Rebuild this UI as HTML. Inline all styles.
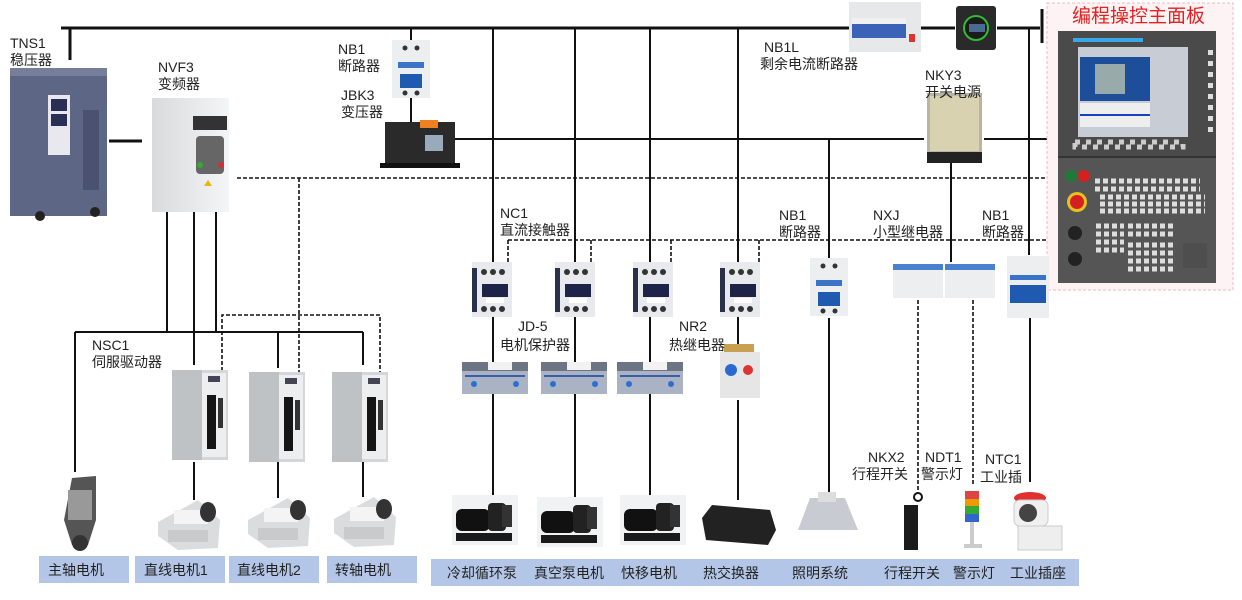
<!DOCTYPE html>
<html><head><meta charset="utf-8"><style>
html,body{margin:0;padding:0;background:#fff}
svg{display:block}
text{font-family:"Liberation Sans","Noto Sans CJK SC",sans-serif;fill:#222}
</style></head><body>
<svg width="1242" height="600" viewBox="0 0 1242 600" xmlns="http://www.w3.org/2000/svg">
<defs>
<linearGradient id="gbox" x1="0" x2="1"><stop offset="0" stop-color="#d8dadc"/><stop offset="1" stop-color="#f4f5f6"/></linearGradient>
<g id="contactor"><rect x="0" y="0" width="40" height="55" fill="#e8eaee"/><rect x="0" y="6" width="5" height="44" fill="#2a2f4a"/><circle cx="12" cy="10" r="3" fill="#333"/><circle cx="21" cy="10" r="3" fill="#333"/><circle cx="30" cy="10" r="3" fill="#333"/><rect x="10" y="22" width="26" height="13" fill="#1e2448"/><rect x="14" y="36" width="18" height="5" fill="#fff"/><circle cx="12" cy="47" r="3" fill="#333"/><circle cx="21" cy="47" r="3" fill="#333"/><circle cx="30" cy="47" r="3" fill="#333"/></g>
<g id="protector"><rect x="0" y="4" width="66" height="28" fill="#a9b3c4"/><rect x="0" y="0" width="66" height="9" fill="#6d7584"/><rect x="26" y="0" width="24" height="8" fill="#f2f2f2"/><rect x="3" y="13" width="60" height="2" fill="#3a5ea8"/><circle cx="12" cy="22" r="3" fill="#2b6fd0"/><circle cx="54" cy="22" r="3" fill="#2b6fd0"/></g>
<g id="drive"><rect x="0" y="0" width="56" height="90" fill="#d4d6d8"/><rect x="0" y="0" width="30" height="90" fill="#bfc2c5"/><rect x="30" y="3" width="24" height="84" fill="#eceeef"/><rect x="35" y="25" width="9" height="54" fill="#151515"/><rect x="46" y="28" width="5" height="30" fill="#333"/><rect x="36" y="6" width="12" height="6" fill="#445"/></g>
<g id="slide"><polygon points="0,22 40,0 62,20 60,48 20,50 0,36" fill="#dadcde"/><rect x="16" y="10" width="34" height="14" fill="#f4f4f4"/><ellipse cx="50" cy="12" rx="8" ry="10" fill="#333"/><rect x="10" y="30" width="40" height="12" fill="#c8cacc"/></g>
<g id="pump"><rect x="0" y="0" width="66" height="50" fill="#f1f2f3"/><rect x="4" y="14" width="34" height="22" rx="6" fill="#111"/><rect x="36" y="8" width="18" height="28" rx="4" fill="#222"/><rect x="50" y="10" width="10" height="22" fill="#333"/><rect x="4" y="38" width="56" height="8" fill="#1a1a1a"/></g>
<g id="breaker1"><rect x="0" y="0" width="38" height="58" fill="#eceef0"/><circle cx="13" cy="8" r="2.5" fill="#333"/><circle cx="25" cy="8" r="2.5" fill="#333"/><rect x="6" y="22" width="26" height="6" fill="#3a73c8"/><rect x="8" y="34" width="22" height="14" fill="#1e5ab0"/><circle cx="13" cy="53" r="2.5" fill="#333"/><circle cx="25" cy="53" r="2.5" fill="#333"/></g>
</defs>

<g fill="#b4c6e7">
<rect x="39" y="556" width="90" height="27"/><rect x="135" y="556" width="90" height="27"/><rect x="229" y="556" width="90" height="27"/><rect x="327" y="556" width="90" height="27"/>
<rect x="431" y="559" width="648" height="27"/>
</g>
<g font-size="14">
<text x="48" y="575">主轴电机</text><text x="144" y="575">直线电机1</text><text x="237" y="575">直线电机2</text><text x="335" y="575">转轴电机</text>
<text x="447" y="578">冷却循环泵</text><text x="534" y="578">真空泵电机</text><text x="621" y="578">快移电机</text><text x="703" y="578">热交换器</text><text x="792" y="578">照明系统</text><text x="884" y="578">行程开关</text><text x="953" y="578">警示灯</text><text x="1010" y="578">工业插座</text>
</g>

<g stroke="#111" stroke-width="2" fill="none">
<line x1="61" y1="28" x2="849" y2="28" stroke-width="3"/>
<line x1="70" y1="28" x2="70" y2="60" stroke-width="3"/>
<line x1="921" y1="28" x2="955" y2="28" stroke-width="3"/>
<line x1="997" y1="28" x2="1040" y2="28" stroke-width="3"/>
<line x1="1042" y1="9" x2="1042" y2="43" stroke-width="3"/>
<line x1="109" y1="141" x2="142" y2="141" stroke-width="3"/>
<line x1="411" y1="28" x2="411" y2="45"/><line x1="411" y1="94" x2="411" y2="165"/>
<line x1="455" y1="139" x2="924" y2="139"/><line x1="984" y1="139" x2="1057" y2="139"/>
<line x1="493" y1="28" x2="493" y2="262"/><line x1="575" y1="28" x2="575" y2="262"/>
<line x1="650" y1="28" x2="650" y2="262"/><line x1="738" y1="28" x2="738" y2="262"/>
<line x1="829" y1="139" x2="829" y2="258"/>
<line x1="951" y1="163" x2="951" y2="262"/>
<line x1="1029" y1="28" x2="1029" y2="255"/>
<line x1="75" y1="332" x2="363" y2="332"/>
<line x1="75" y1="332" x2="75" y2="472"/>
<line x1="167" y1="212" x2="167" y2="332"/><line x1="194" y1="212" x2="194" y2="365"/><line x1="216" y1="212" x2="216" y2="332"/>
<line x1="278" y1="332" x2="278" y2="368"/><line x1="363" y1="332" x2="363" y2="365"/>
<line x1="194" y1="462" x2="194" y2="500"/><line x1="278" y1="462" x2="278" y2="498"/><line x1="363" y1="462" x2="363" y2="497"/>
<line x1="493" y1="317" x2="493" y2="362"/><line x1="493" y1="393" x2="493" y2="495"/>
<line x1="575" y1="317" x2="575" y2="362"/><line x1="575" y1="393" x2="575" y2="497"/>
<line x1="650" y1="317" x2="650" y2="362"/><line x1="650" y1="393" x2="650" y2="497"/>
<line x1="738" y1="317" x2="738" y2="348"/><line x1="738" y1="400" x2="738" y2="500"/>
<line x1="829" y1="318" x2="829" y2="495"/>
<line x1="1030" y1="318" x2="1030" y2="482"/>
</g>
<g stroke="#111" stroke-width="1.6" stroke-dasharray="4,2" fill="none">
<line x1="237" y1="178" x2="1058" y2="178"/>
<line x1="299" y1="178" x2="299" y2="383"/>
<polyline points="222,383 222,315 380,315 380,383"/>
<line x1="508" y1="240" x2="1065" y2="240"/>
<line x1="508" y1="240" x2="508" y2="265"/><line x1="591" y1="240" x2="591" y2="265"/>
<line x1="671" y1="240" x2="671" y2="265"/><line x1="759" y1="240" x2="759" y2="265"/>
<line x1="918" y1="300" x2="918" y2="492"/><line x1="973" y1="300" x2="973" y2="486"/>
</g>

<rect x="10" y="68" width="97" height="148" fill="#5e6685"/><rect x="10" y="68" width="97" height="8" fill="#767e9c"/>
<rect x="48" y="95" width="22" height="60" fill="#e8e8ee"/><rect x="51" y="99" width="16" height="12" fill="#2a2f55"/><rect x="51" y="114" width="16" height="12" fill="#2a2f55"/>
<rect x="83" y="110" width="16" height="80" fill="#4a5270"/>
<circle cx="40" cy="216" r="5" fill="#222"/><circle cx="95" cy="212" r="5" fill="#222"/>

<rect x="152" y="98" width="77" height="114" fill="url(#gbox)"/><rect x="193" y="116" width="34" height="14" fill="#333"/><rect x="196" y="136" width="28" height="38" rx="4" fill="#666"/><circle cx="200" cy="165" r="3" fill="#3a3"/><circle cx="221" cy="165" r="3" fill="#c33"/><polygon points="204,186 208,180 212,186" fill="#e6b800"/>

<use href="#breaker1" x="392" y="40"/>
<rect x="385" y="122" width="70" height="44" fill="#2a2a2a"/><rect x="420" y="120" width="18" height="8" fill="#f08020"/><rect x="425" y="135" width="18" height="16" fill="#9ab"/><rect x="380" y="163" width="80" height="5" fill="#111"/>

<rect x="849" y="2" width="72" height="50" fill="#e6e8ea"/><rect x="852" y="18" width="54" height="20" fill="#3a63b8"/><rect x="852" y="18" width="54" height="6" fill="#f0f0f0"/><rect x="909" y="34" width="6" height="8" fill="#d33"/>
<rect x="956" y="6" width="40" height="44" rx="3" fill="#2a2a2a"/><circle cx="976" cy="28" r="12" fill="#1b1b1b" stroke="#3b3" stroke-width="2"/><rect x="969" y="24" width="16" height="8" fill="#4a6a90"/>

<rect x="927" y="93" width="55" height="70" fill="#b8b5a4"/><rect x="930" y="96" width="49" height="55" fill="#d8d2b0"/><rect x="927" y="152" width="55" height="11" fill="#222"/>

<rect x="1047" y="3" width="186" height="287" fill="#fdf3f4" stroke="#f0b8c0" stroke-dasharray="3,2"/>
<text x="1072" y="22" font-size="19" style="fill:#e62020">编程操控主面板</text>
<rect x="1058" y="31" width="158" height="252" fill="#4a4a4a"/>
<rect x="1058" y="157" width="158" height="126" fill="#555"/>
<line x1="1058" y1="157" x2="1216" y2="157" stroke="#333" stroke-width="2"/>
<rect x="1073" y="38" width="70" height="4" fill="#38a8e8"/>
<rect x="1078" y="47" width="110" height="90" fill="#c8ccd4"/>
<rect x="1080" y="57" width="70" height="44" fill="#1c4e9a"/><rect x="1095" y="64" width="30" height="30" fill="#9aa"/>
<rect x="1080" y="103" width="70" height="24" fill="#eee"/><rect x="1080" y="114" width="70" height="2" fill="#1840c0"/>
<g fill="#ddd"><rect x="1208" y="50" width="5" height="5"/><rect x="1208" y="61" width="5" height="5"/><rect x="1208" y="72" width="5" height="5"/><rect x="1208" y="83" width="5" height="5"/><rect x="1208" y="94" width="5" height="5"/><rect x="1208" y="105" width="5" height="5"/><rect x="1208" y="116" width="5" height="5"/><rect x="1208" y="127" width="5" height="5"/></g>
<rect x="1075" y="142" width="108" height="5" fill="none" stroke="#ccc" stroke-dasharray="5,6" stroke-width="5"/>
<circle cx="1071" cy="176" r="6" fill="#1f7a3a"/><circle cx="1084" cy="176" r="6" fill="#d42020"/>
<circle cx="1077" cy="202" r="10" fill="#e8c020"/><circle cx="1077" cy="202" r="7" fill="#d42020"/>
<circle cx="1075" cy="233" r="7" fill="#222"/><circle cx="1075" cy="259" r="7" fill="#222"/>
<g stroke="#ddd" stroke-width="5" stroke-dasharray="5,3"><line x1="1095" y1="181" x2="1200" y2="181"/><line x1="1095" y1="189" x2="1200" y2="189"/><line x1="1100" y1="197" x2="1205" y2="197"/><line x1="1100" y1="204" x2="1205" y2="204"/><line x1="1100" y1="211" x2="1205" y2="211"/></g>
<g stroke="#ddd" stroke-width="5" stroke-dasharray="5,3"><line x1="1096" y1="226" x2="1124" y2="226"/><line x1="1096" y1="234" x2="1124" y2="234"/><line x1="1096" y1="242" x2="1124" y2="242"/><line x1="1096" y1="250" x2="1124" y2="250"/><line x1="1128" y1="226" x2="1175" y2="226"/><line x1="1128" y1="234" x2="1175" y2="234"/><line x1="1128" y1="245" x2="1175" y2="245"/><line x1="1128" y1="253" x2="1175" y2="253"/><line x1="1128" y1="261" x2="1175" y2="261"/><line x1="1128" y1="269" x2="1175" y2="269"/></g>
<rect x="1183" y="243" width="24" height="25" fill="#4e4e4e"/>

<use href="#contactor" x="472" y="262"/><use href="#contactor" x="555" y="262"/><use href="#contactor" x="633" y="262"/><use href="#contactor" x="720" y="262"/>
<use href="#protector" x="462" y="362"/><use href="#protector" x="541" y="362"/><use href="#protector" x="617" y="362"/>
<rect x="720" y="352" width="40" height="46" fill="#e6e6e6"/><circle cx="731" cy="370" r="6" fill="#2a6ad0"/><circle cx="748" cy="370" r="5" fill="#d33"/><rect x="724" y="344" width="30" height="8" fill="#c8a050"/>
<use href="#breaker1" x="810" y="258"/>
<rect x="893" y="264" width="50" height="34" fill="#eceef0"/><rect x="893" y="264" width="50" height="6" fill="#4a80d0"/>
<rect x="945" y="264" width="50" height="34" fill="#eceef0"/><rect x="945" y="264" width="50" height="6" fill="#4a80d0"/>
<rect x="1007" y="256" width="42" height="62" fill="#eceef0"/><rect x="1010" y="285" width="36" height="18" fill="#1e5ab0"/><rect x="1010" y="275" width="36" height="5" fill="#3a73c8"/>

<use href="#drive" x="172" y="370"/><use href="#drive" x="249" y="372"/><use href="#drive" x="332" y="372"/>
<use href="#slide" x="158" y="500"/><use href="#slide" x="248" y="498"/><use href="#slide" x="334" y="497"/>
<polygon points="72,478 96,476 96,520 88,545 72,545 64,520" fill="#555"/><rect x="68" y="490" width="24" height="30" fill="#999"/><circle cx="80" cy="543" r="8" fill="#333"/>

<use href="#pump" x="452" y="495"/><use href="#pump" x="537" y="497"/><use href="#pump" x="620" y="495"/>
<polygon points="702,518 712,505 770,510 776,530 768,545 706,540" fill="#222"/>
<polygon points="810,498 845,498 858,530 798,530" fill="#c8ccd2"/><rect x="818" y="492" width="18" height="10" fill="#ddd"/>
<rect x="904" y="505" width="14" height="45" fill="#1b1b1b"/><circle cx="918" cy="497" r="4" fill="none" stroke="#111" stroke-width="2"/>
<rect x="965" y="491" width="14" height="8" fill="#d44"/><rect x="965" y="499" width="14" height="7" fill="#e90"/><rect x="965" y="506" width="14" height="8" fill="#3a3"/><rect x="965" y="514" width="14" height="8" fill="#36c"/><rect x="970" y="522" width="4" height="22" fill="#ccc"/><rect x="964" y="544" width="18" height="4" fill="#ccc"/>
<ellipse cx="1030" cy="498" rx="16" ry="6" fill="#e03030"/><rect x="1014" y="500" width="34" height="26" rx="6" fill="#f0f0f0" stroke="#ccc"/><circle cx="1028" cy="513" r="9" fill="#444"/><rect x="1018" y="526" width="44" height="24" fill="#eee" stroke="#ccc"/>

<g font-size="14">
<text x="10" y="48">TNS1</text><text x="10" y="65">稳压器</text>
<text x="158" y="72">NVF3</text><text x="158" y="89">变频器</text>
<text x="338" y="54">NB1</text><text x="338" y="71">断路器</text>
<text x="341" y="100">JBK3</text><text x="341" y="117">变压器</text>
<text x="764" y="52">NB1L</text><text x="760" y="69">剩余电流断路器</text>
<text x="925" y="80">NKY3</text><text x="925" y="97">开关电源</text>
<text x="500" y="218">NC1</text><text x="500" y="235">直流接触器</text>
<text x="779" y="220">NB1</text><text x="779" y="237">断路器</text>
<text x="873" y="220">NXJ</text><text x="873" y="237">小型继电器</text>
<text x="982" y="220">NB1</text><text x="982" y="237">断路器</text>
<text x="92" y="350">NSC1</text><text x="92" y="367">伺服驱动器</text>
<text x="518" y="331">JD-5</text><text x="500" y="350">电机保护器</text>
<text x="679" y="331">NR2</text><text x="669" y="350">热继电器</text>
<text x="868" y="462">NKX2</text><text x="852" y="479">行程开关</text>
<text x="925" y="462">NDT1</text><text x="921" y="479">警示灯</text>
<text x="985" y="464">NTC1</text><text x="980" y="482">工业插</text>
</g>
</svg>
</body></html>
